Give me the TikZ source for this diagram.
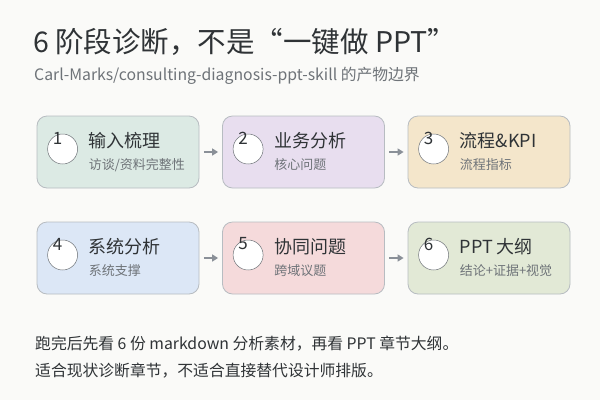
\documentclass[tikz,border=0pt]{standalone}
\usepackage{fontspec}
\setmainfont{Noto Sans CJK SC}
\usepackage{tikz}
\usetikzlibrary{calc, arrows.meta, positioning}

\definecolor{bgpaper}{HTML}{FAFAF8}
\definecolor{ink}{HTML}{2F3336}
\definecolor{softink}{HTML}{6E7378}
\definecolor{edgegray}{HTML}{B7BCC1}
\definecolor{arrowgray}{HTML}{8A9098}
\definecolor{fillA}{HTML}{DCEAE4}
\definecolor{fillB}{HTML}{E8DEEF}
\definecolor{fillC}{HTML}{F4E6CB}
\definecolor{fillD}{HTML}{DCE7F6}
\definecolor{fillE}{HTML}{F5DADB}
\definecolor{fillF}{HTML}{E2E9D6}

\newcommand{\fs}[1]{\fontsize{#1pt}{#1pt}\selectfont}

\begin{document}
\begin{tikzpicture}[x=1pt,y=-1pt,>={Triangle[length=6pt,width=7pt]}]
	\tikzset{stage/.style={draw=edgegray, line width=0.8pt, rounded corners=10pt, minimum width=162pt, minimum height=72pt}}
	\tikzset{dot/.style={circle, draw=softink, fill=white, line width=0.5pt, minimum size=30pt, inner sep=0pt}}
	\tikzset{num/.style={text=ink, inner sep=0pt, font=\fs{17}}}
	\tikzset{head/.style={anchor=west, inner sep=0pt, text=ink, font=\fs{18}}}
	\tikzset{sub/.style={anchor=west, inner sep=0pt, text=softink, font=\fs{13}}}
	\tikzset{flow/.style={->, draw=arrowgray, line width=1.6pt, shorten >=4pt, shorten <=4.5pt}}

	\fill[bgpaper] (0,0) rectangle (600,400);
	\useasboundingbox (0,0) rectangle (600,400);

	\node[anchor=west, inner sep=0pt, text=ink, font=\fs{28.5}] (title) at (33,42) {6 阶段诊断，不是“一键做 PPT”};
	\node[anchor=west, inner sep=0pt, text=softink, font=\fs{15.8}] (repo) at (34,76) {Carl-Marks/consulting-diagnosis-ppt-skill 的产物边界};

	% row one
	\node[stage, fill=fillA] (1) at (118,152) {};
	\node[stage, fill=fillB] (2) at (303.5,152) {};
	\node[stage, fill=fillC] (3) at (489,152) {};
	% row two
	\node[stage, fill=fillD] (4) at (118,258) {};
	\node[stage, fill=fillE] (5) at (303.5,258) {};
	\node[stage, fill=fillF] (6) at (489,258) {};

	\node[dot] (c1) at ($(1.west)+(26,-3)$) {};
	\node[dot] (c2) at ($(2.west)+(26,-3)$) {};
	\node[dot] (c3) at ($(3.west)+(26,-3)$) {};
	\node[dot] (c4) at ($(4.west)+(26,-3)$) {};
	\node[dot] (c5) at ($(5.west)+(26,-3)$) {};
	\node[dot] (c6) at ($(6.west)+(26,-3)$) {};

	\node[num] (n1) at ($(c1)+(-5,-11)$) {1};
	\node[num] (n2) at ($(c2)+(-5,-11)$) {2};
	\node[num] (n3) at ($(c3)+(-5,-11)$) {3};
	\node[num] (n4) at ($(c4)+(-5,-11)$) {4};
	\node[num] (n5) at ($(c5)+(-5,-11)$) {5};
	\node[num] (n6) at ($(c6)+(-5,-11)$) {6};

	\node[head] (h1) at ($(1.west)+(52,-11)$) {输入梳理};
	\node[sub] (s1) at ($(1.west)+(52,13)$) {访谈/资料完整性};
	\node[head] (h2) at ($(2.west)+(52,-11)$) {业务分析};
	\node[sub] (s2) at ($(2.west)+(52,13)$) {核心问题};
	\node[head] (h3) at ($(3.west)+(52,-11)$) {流程\&KPI};
	\node[sub] (s3) at ($(3.west)+(52,13)$) {流程指标};
	\node[head] (h4) at ($(4.west)+(52,-11)$) {系统分析};
	\node[sub] (s4) at ($(4.west)+(52,13)$) {系统支撑};
	\node[head] (h5) at ($(5.west)+(52,-11)$) {协同问题};
	\node[sub] (s5) at ($(5.west)+(52,13)$) {跨域议题};
	\node[head] (h6) at ($(6.west)+(52,-11)$) {PPT 大纲};
	\node[sub] (s6) at ($(6.west)+(52,13)$) {结论+证据+视觉};

	\draw[flow] (1) -- (2);
	\draw[flow] (2) -- (3);
	\draw[flow] (4) -- (5);
	\draw[flow] (5) -- (6);

	\node[anchor=west, inner sep=0pt, text=ink, font=\fs{15.8}] (note1) at (35,344) {跑完后先看 6 份 markdown 分析素材，再看 PPT 章节大纲。};
	\node[anchor=west, inner sep=0pt, text=ink, font=\fs{15.8}] (note2) at (35,371) {适合现状诊断章节，不适合直接替代设计师排版。};
\end{tikzpicture}
\end{document}
